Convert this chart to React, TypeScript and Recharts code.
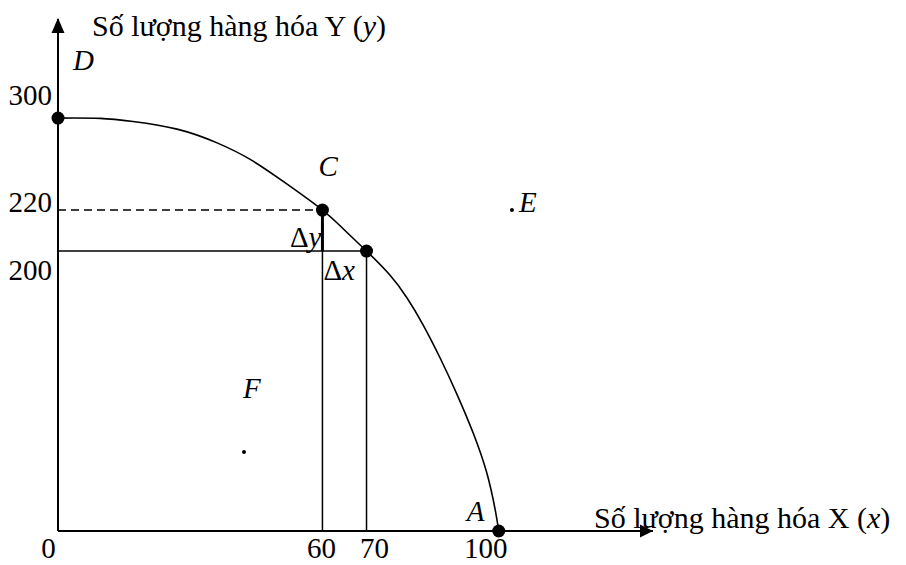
import { ComposedChart, Line, Scatter, XAxis, YAxis, ReferenceLine, ReferenceDot } from 'recharts'

// Đường giới hạn khả năng sản xuất — toạ độ đọc theo hình vẽ (trục tung vẽ không theo tỉ lệ)
const curveX = [0, 9.5, 17, 27, 36.1, 43.6, 51.1, 60, 65, 70, 75.3, 79.2, 82.8, 86.7, 90.5, 94.2, 97.3, 99.2, 100]
const curveY = [300, 299.8, 297.5, 292, 282, 270, 254, 233.2, 218.7, 203.4, 186, 169.3, 150, 125.7, 99.5, 71.2, 42.1, 15.3, 0]

const pointNames = ['D', 'C', 'B', 'A']
const pointX = [0, 60, 70, 100]
const pointY = [300, 233.2, 203.4, 0]

const otherNames = ['E', 'F']
const otherX = [103, 42.2]
const otherY = [233.2, 57.4]

const xTicks = [0, 60, 70, 100]
const yTickLabels = ['300', '220', '200']

const xTitle = 'Số lượng hàng hóa X ('
const yTitle = 'Số lượng hàng hóa Y ('

const FONT = '"Liberation Serif", "Times New Roman", Times, serif'
const FS = 29
const txt = { fontFamily: FONT, fontSize: FS }
const itx = { fontFamily: FONT, fontSize: FS, fontStyle: 'italic' as const }
const ttl = { fontFamily: FONT, fontSize: 30 }

const curve = curveX.map((x, i) => ({ x, y: curveY[i] }))
const points = pointNames.map((name, i) => ({ name, x: pointX[i], y: pointY[i] }))
const [D, C, B] = points
const yTicks = [D.y, C.y, B.y]

const labelOffsets: Record<string, [number, number]> = {
  D: [15, -48],
  C: [-4, -34],
  A: [-32, -10],
  E: [7, 2],
  F: [-1, -54],
}
const xTickDx: Record<number, number> = { 0: -9.5, 60: -1, 70: 8, 100: -13 }

function PointShape(props: any) {
  const { cx, cy, payload } = props
  const off = labelOffsets[payload.name]
  return (
    <g>
      <circle cx={cx} cy={cy} r={6.5} fill="#000" />
      {off && (
        <text x={cx + off[0]} y={cy + off[1]} style={itx} fill="#000">
          {payload.name}
        </text>
      )}
    </g>
  )
}

function XTick(props: any) {
  const { x, y, payload } = props
  return (
    <text x={x + (xTickDx[payload.value] ?? 0)} y={y + 27} textAnchor="middle" style={txt} fill="#000">
      {payload.value}
    </text>
  )
}

const yTickDy = [-13, 2, 29]
function YTick(props: any) {
  const { x, y, index } = props
  return (
    <text x={x - 6} y={y + yTickDy[index]} textAnchor="end" style={txt} fill="#000">
      {yTickLabels[index]}
    </text>
  )
}

function otherLabel(name: string) {
  return (p: any) => {
    const vb = p.viewBox
    const cx = vb.x + vb.width / 2
    const cy = vb.y + vb.height / 2
    const off = labelOffsets[name]
    return (
      <text x={cx + off[0]} y={cy + off[1]} style={itx} fill="#000">
        {name}
      </text>
    )
  }
}

export default function App() {
  return (
    <div style={{ position: 'absolute', left: 0, top: 0, width: 906, height: 565, background: '#fff' }}>
      <ComposedChart width={906} height={565} margin={{ top: 19, right: 253, bottom: 0, left: 0 }}>
        <XAxis
          type="number"
          dataKey="x"
          domain={[0, 135]}
          ticks={xTicks}
          height={34}
          tickSize={0}
          tickMargin={0}
          tick={<XTick />}
          axisLine={{ stroke: '#000', strokeWidth: 2 }}
          tickLine={false}
          label={{
            content: (p: any) => {
              const vb = p.viewBox
              const ex = vb.x + vb.width
              const ay = vb.y
              return (
                <g>
                  <polygon points={`${ex},${ay} ${ex - 13},${ay - 6.5} ${ex - 13},${ay + 6.5}`} fill="#000" />
                  <text x={ex - 59} y={ay - 3} style={ttl} fill="#000">
                    {xTitle}
                    <tspan fontStyle="italic">x</tspan>)
                  </text>
                </g>
              )
            },
          }}
        />
        <YAxis
          type="number"
          dataKey="y"
          domain={[0, 372]}
          ticks={yTicks}
          width={58}
          tickSize={0}
          tickMargin={0}
          tick={<YTick />}
          axisLine={{ stroke: '#000', strokeWidth: 2 }}
          tickLine={false}
          label={{
            content: (p: any) => {
              const vb = p.viewBox
              const ax = vb.x + vb.width
              const ty = vb.y
              return (
                <g>
                  <polygon points={`${ax},${ty - 1} ${ax - 6.5},${ty + 14} ${ax + 6.5},${ty + 14}`} fill="#000" />
                  <text x={ax + 34} y={ty + 17} style={ttl} fill="#000">
                    {yTitle}
                    <tspan fontStyle="italic">y</tspan>)
                  </text>
                </g>
              )
            },
          }}
        />
        <ReferenceLine
          segment={[{ x: 0, y: C.y }, { x: C.x, y: C.y }]}
          stroke="#000"
          strokeWidth={1.5}
          strokeDasharray="8 5"
        />
        <ReferenceLine segment={[{ x: 0, y: B.y }, { x: B.x, y: B.y }]} stroke="#000" strokeWidth={1.5} />
        <ReferenceLine
          segment={[{ x: C.x, y: 0 }, { x: C.x, y: B.y }]}
          stroke="#000"
          strokeWidth={1.5}
          label={{
            content: (p: any) => {
              const vb = p.viewBox
              return (
                <text x={vb.x + 1} y={vb.y + 29} style={txt} fill="#000">
                  Δ<tspan fontStyle="italic">x</tspan>
                </text>
              )
            },
          }}
        />
        <ReferenceLine
          segment={[{ x: C.x, y: B.y }, { x: C.x, y: C.y }]}
          stroke="#000"
          strokeWidth={3}
          label={{
            content: (p: any) => {
              const vb = p.viewBox
              return (
                <text x={vb.x - 1} y={vb.y + vb.height - 4} textAnchor="end" style={txt} fill="#000">
                  Δ<tspan fontStyle="italic">y</tspan>
                </text>
              )
            },
          }}
        />
        <ReferenceLine segment={[{ x: B.x, y: 0 }, { x: B.x, y: B.y }]} stroke="#000" strokeWidth={1.5} />
        <Line
          data={curve}
          dataKey="y"
          type="natural"
          stroke="#000"
          strokeWidth={1.6}
          dot={false}
          activeDot={false}
          isAnimationActive={false}
        />
        <Scatter data={points} dataKey="y" shape={<PointShape />} isAnimationActive={false} />
        {otherNames.map((name, i) => (
          <ReferenceDot
            key={name}
            x={otherX[i]}
            y={otherY[i]}
            r={2}
            fill="#000"
            stroke="none"
            label={{ content: otherLabel(name) }}
          />
        ))}
      </ComposedChart>
    </div>
  )
}
